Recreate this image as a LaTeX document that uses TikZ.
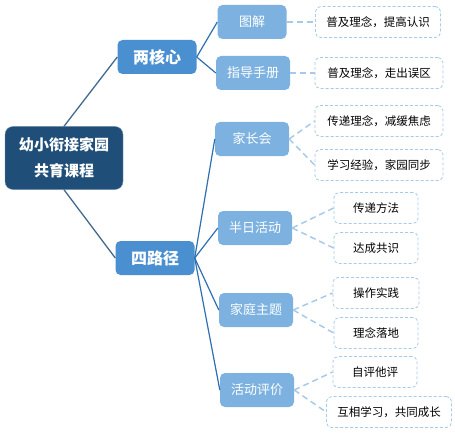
\documentclass[tikz,border=0pt]{standalone}
\usepackage{fontspec}
\setmainfont{Noto Sans CJK SC}
\usepackage{xcolor}
\usetikzlibrary{positioning}
\definecolor{FAMnavy}{HTML}{1F4E79}
\definecolor{FAMblue}{HTML}{4A8FD0}
\definecolor{FAMsky}{HTML}{7DB2E0}
\definecolor{FAMline}{HTML}{2E6FB0}
\definecolor{FAMdash}{HTML}{A7CAEA}
\tikzset{
  rootbox/.style={rounded corners=8pt, fill=FAMnavy, draw=FAMnavy!60, text=white, align=center, minimum width=118pt, minimum height=63pt, font=\fontsize{15}{26}\selectfont\bfseries},
  corebox/.style={rounded corners=5pt, fill=FAMblue, text=white, minimum width=79pt, minimum height=34pt, font=\fontsize{16}{18}\selectfont\bfseries},
  subbox/.style={rounded corners=5pt, fill=FAMsky, text=white, minimum width=74pt, minimum height=34pt, font=\fontsize{13}{15}\selectfont},
  notebox/.style={rounded corners=5pt, draw=FAMdash, thick, dash pattern=on 3pt off 2pt, fill=white, text=black, minimum width=84pt, minimum height=31pt, font=\fontsize{11.5}{13}\selectfont},
  widenote/.style={notebox, minimum width=128pt},
  trunk/.style={draw=FAMnavy!85, line width=1.3pt},
  branch/.style={draw=FAMline, line width=1.2pt},
  twig/.style={draw=FAMdash, line width=1.5pt, dash pattern=on 6pt off 4pt}
}
\begin{document}
\begin{tikzpicture}[x=1pt, y=-1pt]
\useasboundingbox (0,0) rectangle (455,433);
% root and the two main branches
\node[rootbox] (root) at (64,158) {幼小衔接家园\\共育课程};
\node[corebox] (core) at (157,57) {两核心};
\node[corebox] (path) at (155,258) {四路径};
% second level
\node[subbox, minimum width=69pt] (tujie) at (252,22) {图解};
\node[subbox] (shouce) at (253,73) {指导手册};
\node[subbox] (jiazhang) at (252,139) {家长会};
\node[subbox] (banri) at (255,228) {半日活动};
\node[subbox] (jiating) at (256,310) {家庭主题};
\node[subbox] (pingjia) at (257,390) {活动评价};
% notes
\node[widenote, minimum width=125pt] (n1) at (378,22) {普及理念，提高认识};
\node[widenote] (n2) at (379,73) {普及理念，走出误区};
\node[widenote] (n3) at (379,121) {传递理念，减缓焦虑};
\node[widenote] (n4) at (379,165) {学习经验，家园同步};
\node[notebox] (n5) at (376,208) {传递方法};
\node[notebox] (n6) at (376,248) {达成共识};
\node[notebox, minimum width=86pt] (n7) at (376,293) {操作实践};
\node[notebox] (n8) at (376,333) {理念落地};
\node[notebox] (n9) at (375,372) {自评他评};
\node[widenote, minimum width=125pt] (n10) at (389,412) {互相学习，共同成长};
% connectors
\draw[trunk] (root.north) -- (core.west);
\draw[trunk] (root.south) -- (path.west);
\foreach \s in {tujie,shouce} \draw[branch] (core.east) -- (\s.west);
\foreach \s in {jiazhang,banri,jiating,pingjia} \draw[branch] (path.east) -- (\s.west);
\draw[twig] (tujie.east) -- (n1.west);
\draw[twig] (shouce.east) -- (n2.west);
\draw[twig] (jiazhang.east) -- (n3.west);
\draw[twig] (jiazhang.east) -- (n4.west);
\draw[twig] (banri.east) -- (n5.west);
\draw[twig] (banri.east) -- (n6.west);
\draw[twig] (jiating.east) -- (n7.west);
\draw[twig] (jiating.east) -- (n8.west);
\draw[twig] (pingjia.east) -- (n9.west);
\draw[twig] (pingjia.east) -- (n10.west);
\end{tikzpicture}
\end{document}
